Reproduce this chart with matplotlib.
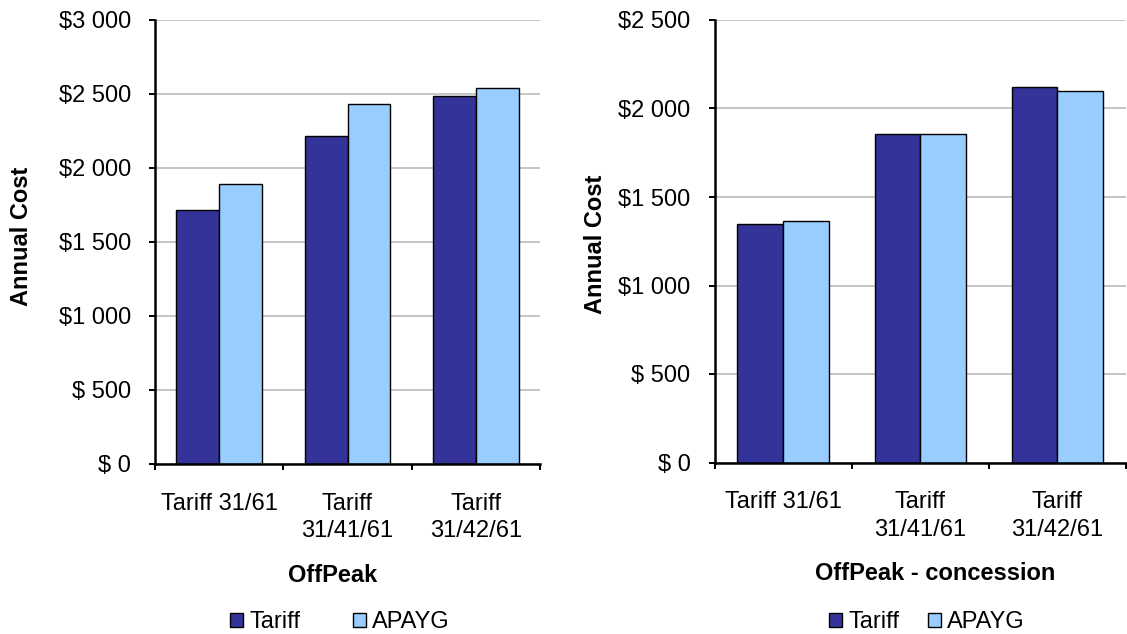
import matplotlib
matplotlib.use("Agg")
import matplotlib.pyplot as plt
import numpy as np

plt.rcParams['font.family'] = ['Liberation Sans', 'DejaVu Sans']

categories = ["Tariff 31/61", "Tariff\n31/41/61", "Tariff\n31/42/61"]
series_names = ["Tariff", "APAYG"]
offpeak_tariff = [1715, 2215, 2485]
offpeak_apayg = [1890, 2430, 2540]
conc_tariff = [1350, 1855, 2120]
conc_apayg = [1365, 1855, 2100]

left_ticks = [0, 500, 1000, 1500, 2000, 2500, 3000]
left_ticklabels = ["$ 0", "$ 500", "$1 000", "$1 500", "$2 000", "$2 500", "$3 000"]
right_ticks = [0, 500, 1000, 1500, 2000, 2500]
right_ticklabels = ["$ 0", "$ 500", "$1 000", "$1 500", "$2 000", "$2 500"]

W, H = 1127, 634
DPI = 100
fig = plt.figure(figsize=(W / DPI, H / DPI), dpi=DPI)

C_DARK = "#333399"
C_LIGHT = "#99CCFF"
FS = 17


def px(v):
    return v * 72 / DPI


def make_axes(px_left, px_right, px_top, px_bottom):
    return fig.add_axes([px_left / W, 1 - px_bottom / H,
                         (px_right - px_left) / W, (px_bottom - px_top) / H])


def draw(ax, s1, s2, ticks, ticklabels, ymax):
    x = np.arange(len(categories))
    bw = 1 / 3
    ax.bar(x - bw / 2, s1, bw, color=C_DARK, edgecolor="black", linewidth=px(1.4),
           label=series_names[0], zorder=3)
    ax.bar(x + bw / 2, s2, bw, color=C_LIGHT, edgecolor="black", linewidth=px(1.4),
           label=series_names[1], zorder=3)
    ax.set_xlim(-0.5, len(categories) - 0.5)
    ax.set_ylim(0, ymax)
    ax.set_yticks(ticks)
    ax.set_yticklabels(ticklabels, fontsize=FS)
    ax.yaxis.grid(True, color="#C0C0C0", linewidth=px(1.8), zorder=0)
    ax.set_axisbelow(True)
    ax.set_xticks(np.arange(len(categories) + 1) - 0.5)
    ax.set_xticklabels([])
    ax.set_xticks(x, minor=True)
    ax.set_xticklabels(categories, minor=True, fontsize=FS, linespacing=1.32)
    ax.tick_params(axis="x", which="minor", length=0, pad=px(29))
    ax.tick_params(axis="x", which="major", length=px(6), width=px(2), direction="out")
    ax.tick_params(axis="y", length=px(6), width=px(2), direction="out", pad=px(18))
    for s in ("top", "right"):
        ax.spines[s].set_visible(False)
    for s in ("left", "bottom"):
        ax.spines[s].set_linewidth(px(2.5))
        ax.spines[s].set_color("black")
        ax.spines[s].set_zorder(4)


ax1 = make_axes(155, 540, 20, 464)
draw(ax1, offpeak_tariff, offpeak_apayg, left_ticks, left_ticklabels, 3000)
ax2 = make_axes(714.5, 1126, 20, 462.5)
draw(ax2, conc_tariff, conc_apayg, right_ticks, right_ticklabels, 2500)

fig.text(333 / W, 1 - 576 / H, "OffPeak", ha="center", va="center",
         fontsize=FS, fontweight="bold")
fig.text(935 / W, 1 - 574 / H, "OffPeak - concession", ha="center", va="center",
         fontsize=FS, fontweight="bold")
fig.text(21.5 / W, 1 - 236 / H, "Annual Cost", ha="center", va="center",
         rotation=90, fontsize=FS, fontweight="bold")
fig.text(595 / W, 1 - 244 / H, "Annual Cost", ha="center", va="center",
         rotation=90, fontsize=FS, fontweight="bold")

for ax, cx, cs in ((ax1, 340, 2.2), (ax2, 927, 1.2)):
    h, l = ax.get_legend_handles_labels()
    fig.legend(h, l, loc="center", bbox_to_anchor=(cx / W, 1 - 622 / H),
               ncol=2, frameon=False, fontsize=FS, handlelength=0.55,
               handleheight=0.55, handletextpad=0.27, columnspacing=cs,
               borderpad=0, borderaxespad=0)

fig.savefig("out.png", dpi=DPI)
